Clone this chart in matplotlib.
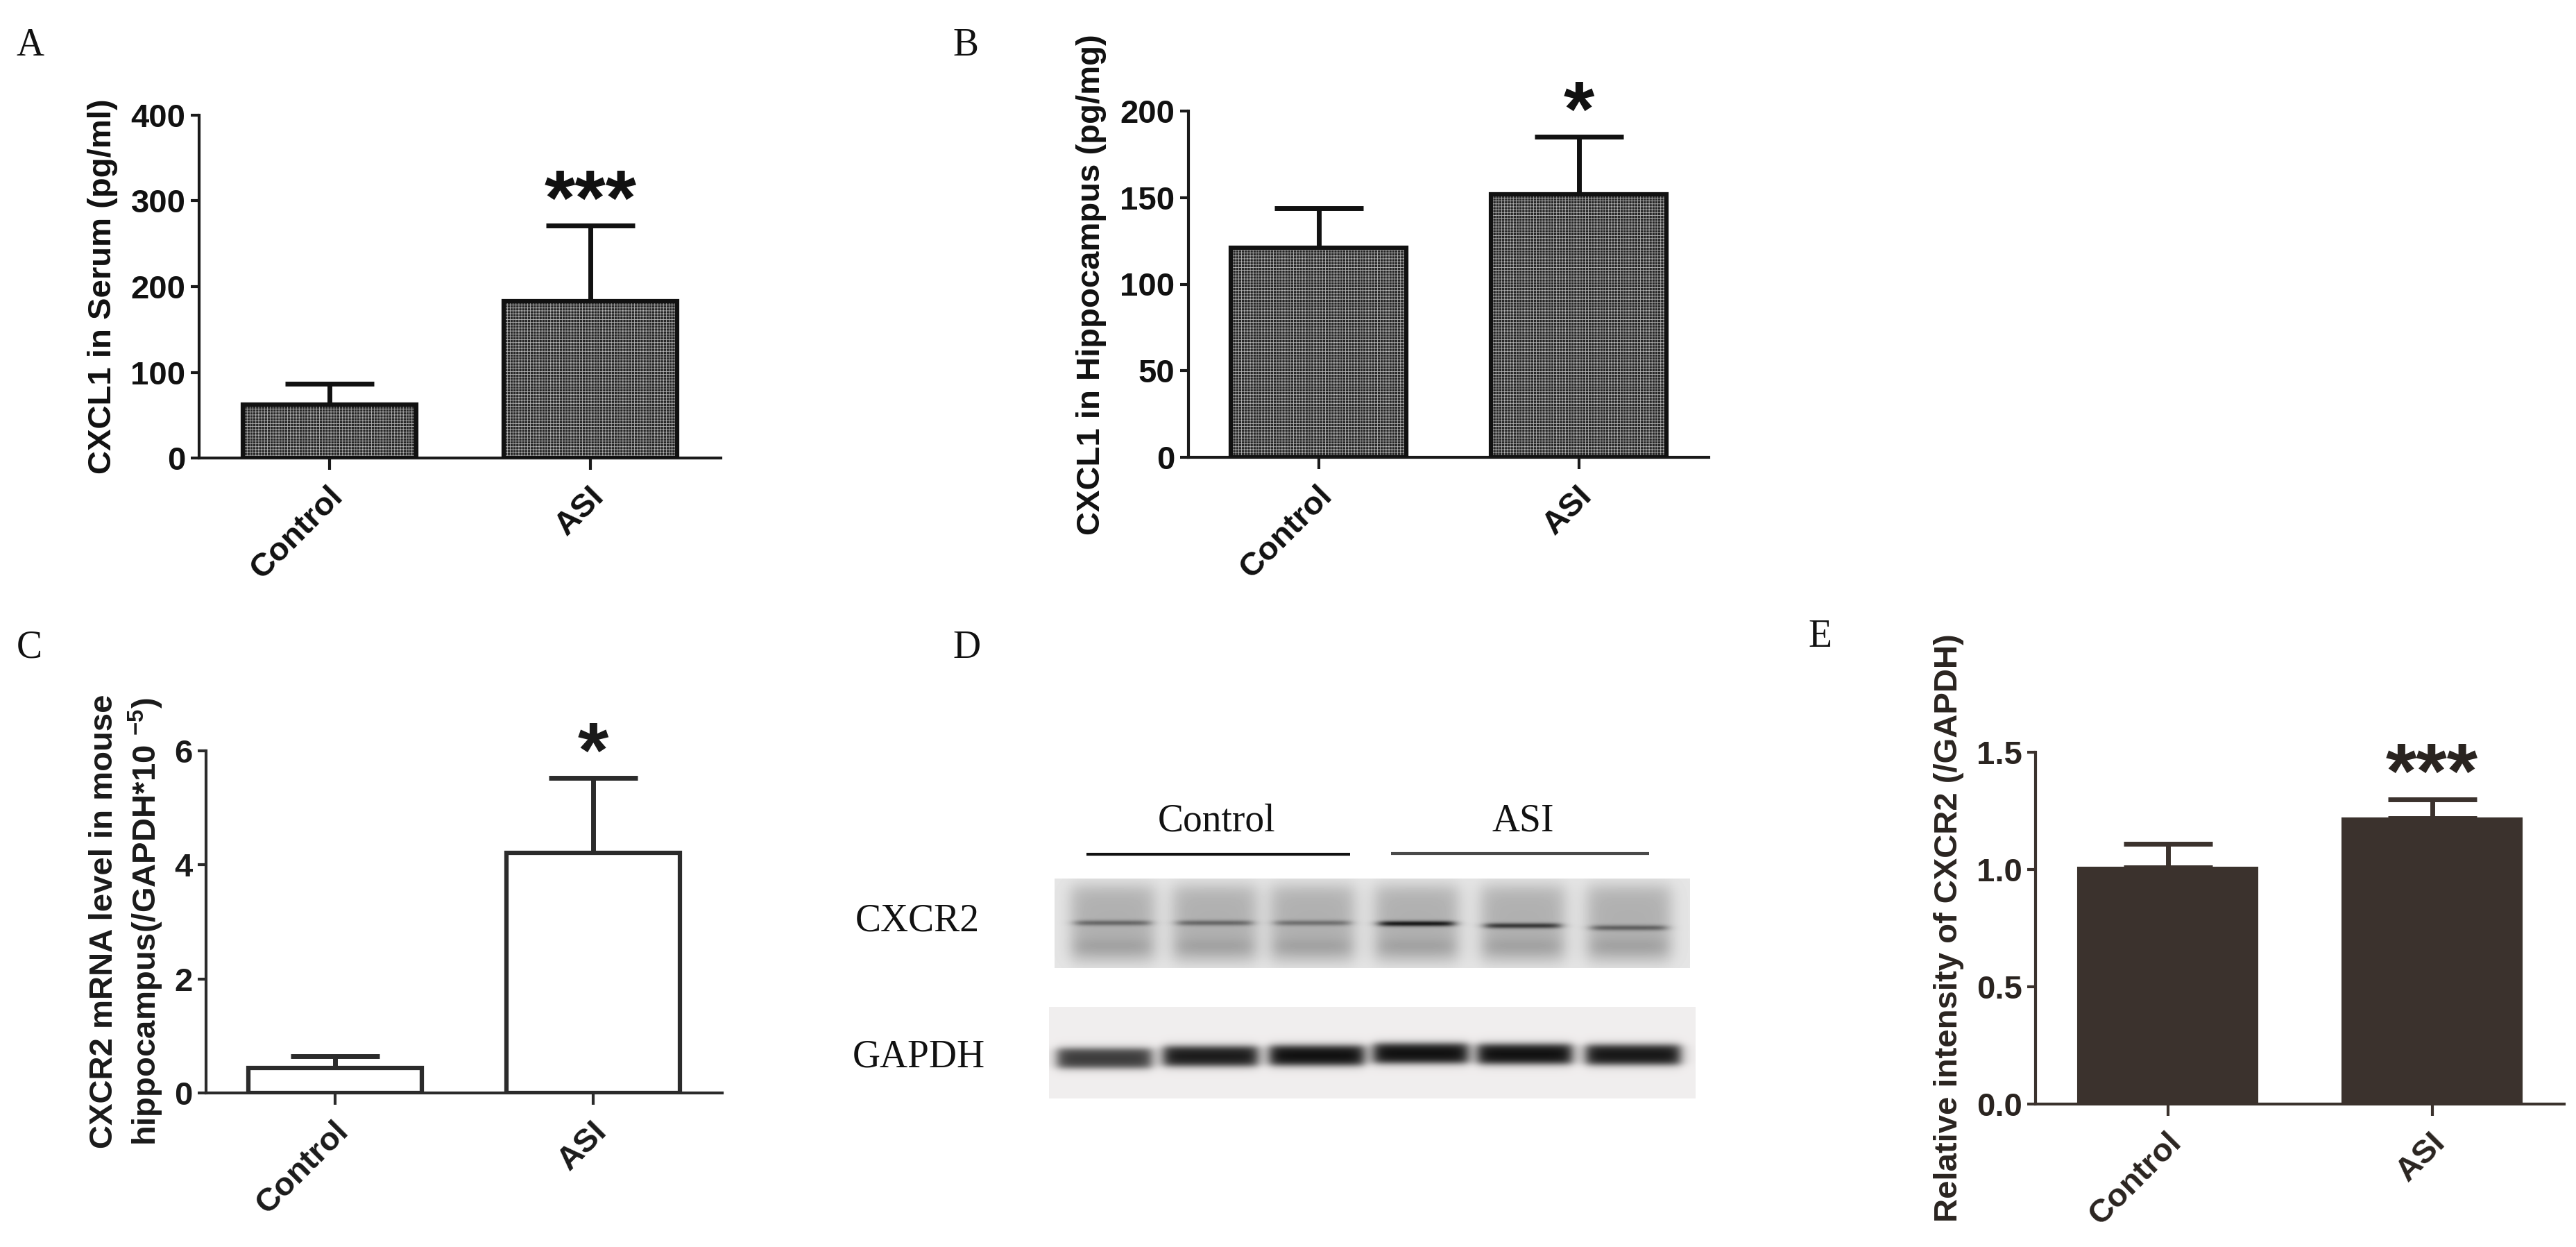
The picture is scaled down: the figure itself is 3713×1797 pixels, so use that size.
import numpy as np
import matplotlib
matplotlib.use("Agg")
import matplotlib.pyplot as plt
from matplotlib import transforms

# ---------------- data ----------------
groups = ["Control", "ASI"]

serum_mean = [62, 183]          # A: CXCL1 in serum (pg/ml)
serum_sem = [25, 88]
hippo_mean = [121, 152]         # B: CXCL1 in hippocampus (pg/mg)
hippo_sem = [23, 33]
mrna_mean = [0.44, 4.21]        # C: CXCR2 mRNA (/GAPDH*10^-5)
mrna_sem = [0.21, 1.31]
wb_mean = [1.01, 1.22]          # E: relative intensity CXCR2/GAPDH
wb_sem = [0.10, 0.08]

stars_A, stars_B, stars_C, stars_E = "***", "*", "*", "***"

yticks_A = [0, 100, 200, 300, 400]
yticks_B = [0, 50, 100, 150, 200]
yticks_C = [0, 2, 4, 6]
yticks_E = [0.0, 0.5, 1.0, 1.5]
yticklabels_E = ["0.0", "0.5", "1.0", "1.5"]

# western blot (panel D): relative band strengths per lane
blot_groups = ["Control", "ASI"]
cxcr2_band = [0.45, 0.45, 0.40, 0.95, 0.75, 0.50]
gapdh_band = [0.80, 0.95, 1.00, 1.00, 1.00, 0.97]

# ---------------- figure ----------------
W, H, DPI = 3713, 1797, 100
plt.rcParams["font.family"] = ["Liberation Sans", "DejaVu Sans"]
plt.rcParams["mathtext.fontset"] = "custom"
plt.rcParams["mathtext.bf"] = "Liberation Sans:bold"
plt.rcParams["mathtext.rm"] = "Liberation Sans:bold"
plt.rcParams["hatch.linewidth"] = 0.6

fig = plt.figure(figsize=(W / DPI, H / DPI), dpi=DPI, facecolor="white")

# overlay canvas in pixel coordinates for free text / blot
canvas = fig.add_axes([0, 0, 1, 1], zorder=0)
canvas.set_xlim(0, W)
canvas.set_ylim(H, 0)
canvas.axis("off")


def px_axes(l, r, t, b):
    return fig.add_axes([l / W, 1 - b / H, (r - l) / W, (b - t) / H], zorder=2)


FS = 34
STAR_FS = 82


def bar_panel(ax, means, sems, ticks, ticklabels, style, spine_color, text_color,
              bar_width, stars):
    x = np.arange(len(groups))
    means = np.asarray(means, float)
    sems = np.asarray(sems, float)
    ax.errorbar(x, means, yerr=[np.zeros_like(sems), sems], fmt="none",
                ecolor=style["edge"], elinewidth=5, capsize=46, capthick=5,
                zorder=1)
    if style["kind"] == "hatch":
        ax.bar(x, means, bar_width, color="#262626", edgecolor="none", zorder=2)
        ax.bar(x, means, bar_width, fill=False, hatch="++++", edgecolor="#b5b5b5",
               linewidth=0, zorder=3)
        ax.bar(x, means, bar_width, fill=False, edgecolor=style["edge"],
               linewidth=4.5, zorder=4)
    elif style["kind"] == "open":
        ax.bar(x, means, bar_width, color="white", edgecolor=style["edge"],
               linewidth=4.5, zorder=2)
    else:
        ax.bar(x, means, bar_width, color=style["face"], edgecolor=style["face"],
               linewidth=1.5, zorder=2)

    ax.set_xlim(-0.5, 1.5)
    ax.set_ylim(ticks[0], ticks[-1])
    ax.set_yticks(ticks)
    ax.set_yticklabels(ticklabels)
    ax.set_xticks(x)
    ax.set_xticklabels(groups)
    for s in ["top", "right"]:
        ax.spines[s].set_visible(False)
    for s in ["left", "bottom"]:
        ax.spines[s].set_linewidth(3)
        ax.spines[s].set_color(spine_color)
        ax.spines[s].set_capstyle("projecting")
    ax.tick_params(axis="y", length=9, width=3, color=spine_color, pad=5,
                   labelsize=FS, labelcolor=text_color)
    ax.tick_params(axis="x", length=12, width=3, color=spine_color, pad=12,
                   labelsize=FS, labelcolor=text_color)
    for lab in ax.get_yticklabels():
        lab.set_fontweight("bold")
    off = transforms.ScaledTranslation(-3 / DPI, 0, fig.dpi_scale_trans)
    for lab in ax.get_xticklabels():
        lab.set_fontweight("bold")
        lab.set_rotation(45)
        lab.set_ha("right")
        lab.set_va("top")
        lab.set_rotation_mode("anchor")
        lab.set_transform(lab.get_transform() + off)
    ax.patch.set_alpha(0)
    # significance marks above the error bars
    for xi, m, s, st in zip(x, means, sems, stars):
        if st:
            ax.annotate(st, (xi, m + s), xytext=(0, 1), textcoords="offset points",
                        ha="center", va="baseline", fontsize=STAR_FS,
                        fontweight="bold", color=text_color, annotation_clip=False)


hatch_style = {"kind": "hatch", "edge": "#111111"}

axA = px_axes(287, 1039, 166, 660)
bar_panel(axA, serum_mean, serum_sem, yticks_A, [str(t) for t in yticks_A],
          hatch_style, "#1a1a1a", "#111111", 0.667, ["", stars_A])

axB = px_axes(1713, 2463, 160, 659)
bar_panel(axB, hippo_mean, hippo_sem, yticks_B, [str(t) for t in yticks_B],
          hatch_style, "#1a1a1a", "#111111", 0.675, ["", stars_B])

axC = px_axes(297, 1041, 1082, 1575)
bar_panel(axC, mrna_mean, mrna_sem, yticks_C, [str(t) for t in yticks_C],
          {"kind": "open", "edge": "#2b2b2b"}, "#2b2b2b", "#1a1a1a", 0.67,
          ["", stars_C])

axE = px_axes(2934, 3696, 1084, 1591)
bar_panel(axE, wb_mean, wb_sem, yticks_E, yticklabels_E,
          {"kind": "solid", "face": "#3b322d", "edge": "#3b322d"}, "#3b322d",
          "#2a2420", 0.68, ["", stars_E])

# ---------------- y labels ----------------
canvas.text(148, 413, "CXCL1 in Serum (pg/ml)", rotation=90, ha="center",
            va="center", fontsize=FS, fontweight="bold", color="#111111")
canvas.text(1573, 410, "CXCL1 in Hippocampus (pg/mg)", rotation=90, ha="center",
            va="center", fontsize=FS, fontweight="bold", color="#111111")
canvas.text(183, 1328,
            "CXCR2 mRNA level in mouse\nhippocampus(/GAPDH*10 $^{-5}$)",
            rotation=90, ha="center", va="center", fontsize=FS, fontweight="bold",
            color="#1a1a1a", linespacing=1.25, multialignment="center")
canvas.text(2809, 1337, "Relative intensity of CXCR2 (/GAPDH)", rotation=90,
            ha="center", va="center", fontsize=FS, fontweight="bold",
            color="#2a2420")

# ---------------- panel letters ----------------
serif = ["Liberation Serif", "DejaVu Serif"]
for letter, (lx, ly) in zip("ABCDE", [(24, 80), (1373, 80), (24, 947),
                                       (1373, 948), (2606, 932)]):
    canvas.text(lx, ly, letter, fontsize=40, family=serif, ha="left",
                va="baseline", color="#111111")

# ---------------- panel D: western blot ----------------
def smooth_box(u, c, half, soft):
    return 1 / (1 + np.exp((np.abs(u - c) - half) / soft))


# CXCR2 blot
cx0, cx1, cy0, cy1 = 1520, 2436, 1266, 1395
xs = np.arange(cx0, cx1) + 0.5
ys = np.arange(cy0, cy1) + 0.5
XX, YY = np.meshgrid(xs, ys)
lanes_c = [1604, 1751, 1892, 2042, 2195, 2348]
band_y_c = [1330, 1330, 1330, 1331, 1334, 1337]
img = np.full(XX.shape, 0.90)
for lc, by, bs in zip(lanes_c, band_y_c, cxcr2_band):
    smear = smooth_box(XX, lc, 60, 7) * smooth_box(YY, 1331, 54, 7)
    lower = smooth_box(XX, lc, 55, 6) * np.exp(-((YY - 1364) / 13) ** 2)
    band = smooth_box(XX, lc, 54, 5) * np.exp(-((YY - by) / 4.0) ** 2)
    img -= 0.21 * smear + 0.06 * lower + 0.62 * bs * band
img = np.clip(img, 0, 1)
canvas.imshow(img, cmap="gray", vmin=0, vmax=1, extent=(cx0, cx1, cy1, cy0),
              origin="upper", interpolation="bilinear", aspect="auto", zorder=1)

# GAPDH blot
gx0, gx1, gy0, gy1 = 1512, 2444, 1451, 1583
xs = np.arange(gx0, gx1) + 0.5
ys = np.arange(gy0, gy1) + 0.5
XX, YY = np.meshgrid(xs, ys)
lanes_g = [1592, 1745, 1898, 2048, 2198, 2354]
band_y_g = [1525, 1522, 1521, 1518, 1519, 1520]
dark = np.zeros(XX.shape)
for lg, by, bs in zip(lanes_g, band_y_g, gapdh_band):
    dark += bs * smooth_box(XX, lg, 68, 5) * smooth_box(YY, by, 14, 3.0)
dark = np.clip(dark, 0, 1)
rgb = np.empty(XX.shape + (3,))
base = np.array([0.945, 0.935, 0.935])
ink = np.array([0.06, 0.06, 0.06])
for k in range(3):
    rgb[..., k] = base[k] * (1 - dark) + ink[k] * dark
canvas.imshow(rgb, extent=(gx0, gx1, gy1, gy0), origin="upper",
              interpolation="bilinear", aspect="auto", zorder=1)

canvas.set_xlim(0, W)
canvas.set_ylim(H, 0)

# blot labels
canvas.text(1754, 1198, blot_groups[0], fontsize=40, family=serif, ha="center",
            va="baseline", color="#111111")
canvas.text(2195, 1198, blot_groups[1], fontsize=40, family=serif, ha="center",
            va="baseline", color="#111111")
canvas.plot([1566, 1946], [1231, 1231], color="#111111", lw=3,
            solid_capstyle="butt")
canvas.plot([2005, 2377], [1230, 1230], color="#4a4a4a", lw=3,
            solid_capstyle="butt")
canvas.text(1412, 1341, "CXCR2", fontsize=40, family=serif, ha="right",
            va="baseline", color="#111111")
canvas.text(1420, 1538, "GAPDH", fontsize=40, family=serif, ha="right",
            va="baseline", color="#111111")

fig.savefig("out.png", dpi=DPI, facecolor="white")
